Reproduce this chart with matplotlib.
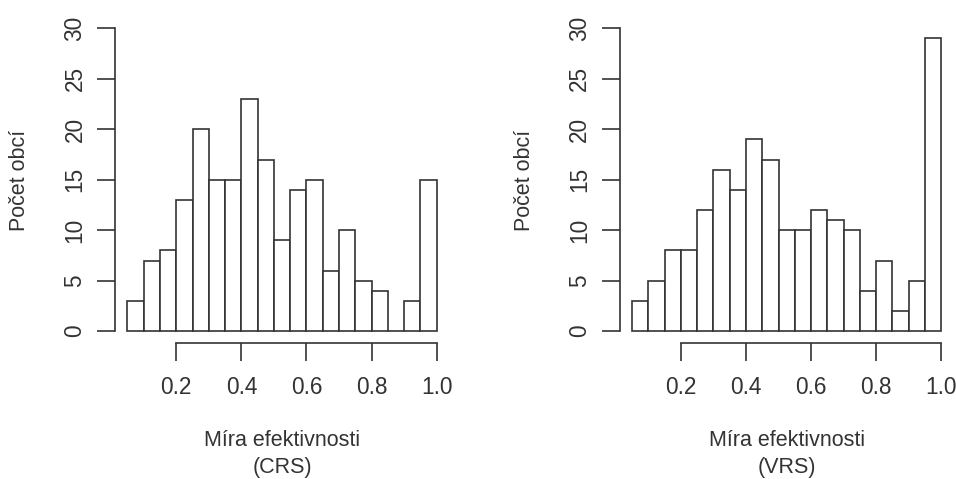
import matplotlib
matplotlib.use("Agg")
import matplotlib.pyplot as plt
import numpy as np

plt.rcParams['font.family'] = ['Liberation Sans', 'DejaVu Sans']

bin_edges = [0.05, 0.10, 0.15, 0.20, 0.25, 0.30, 0.35, 0.40, 0.45, 0.50,
             0.55, 0.60, 0.65, 0.70, 0.75, 0.80, 0.85, 0.90, 0.95, 1.00]
crs_counts = [3, 7, 8, 13, 20, 15, 15, 23, 17, 9, 14, 15, 6, 10, 5, 4, 0, 3, 15]
vrs_counts = [3, 5, 8, 8, 12, 16, 14, 19, 17, 10, 10, 12, 11, 10, 4, 7, 2, 5, 29]
x_ticks = [0.2, 0.4, 0.6, 0.8, 1.0]
x_tick_labels = ["0.2", "0.4", "0.6", "0.8", "1.0"]
y_ticks = [0, 5, 10, 15, 20, 25, 30]
y_label = "Počet obcí"
x_label = "Míra efektivnosti"
x_sublabels = ["(CRS)", "(VRS)"]

W, H = 956, 479
fig = plt.figure(figsize=(W / 100, H / 100), dpi=100)
ink = "#333333"
fs = 15.5
tfs = 16.3

panels = [(crs_counts, x_sublabels[0], 115, 449.1),
          (vrs_counts, x_sublabels[1], 619.7, 953.7)]
ylab_x = [20, 524.7]

for i, (counts, sub, left_px, right_px) in enumerate(panels):
    top_px, bot_px = 16.2, 343.3
    ax = fig.add_axes([left_px / W, 1 - bot_px / H,
                       (right_px - left_px) / W, (bot_px - top_px) / H])
    edges = np.array(bin_edges)
    ax.bar(edges[:-1], counts, width=np.diff(edges), align='edge',
           facecolor='white', edgecolor=ink, linewidth=1.2)
    ax.set_xlim(0.012, 1.038)
    ax.set_ylim(-1.2, 31.2)
    for s in ['top', 'right']:
        ax.spines[s].set_visible(False)
    ax.spines['left'].set_bounds(0, 30)
    ax.spines['bottom'].set_bounds(0.2, 1.0)
    for s in ['left', 'bottom']:
        ax.spines[s].set_color(ink)
        ax.spines[s].set_linewidth(1.2)
    ax.set_xticks(x_ticks)
    ax.set_xticklabels(x_tick_labels)
    ax.set_yticks(y_ticks)
    ax.set_yticklabels([str(v) for v in y_ticks], rotation=90, va='center')
    ax.tick_params(axis='both', colors=ink, labelcolor=ink, labelsize=tfs,
                   length=13, width=1.2)
    ax.tick_params(axis='x', pad=10.5)
    ax.tick_params(axis='y', pad=7.5)
    cx = (left_px + right_px) / 2
    fig.text(cx / W, 1 - 441 / H, x_label, ha='center', va='center',
             fontsize=fs, color=ink)
    fig.text(cx / W, 1 - 468 / H, sub, ha='center', va='center',
             fontsize=fs, color=ink)
    fig.text(ylab_x[i] / W, 1 - 180 / H, y_label, ha='center', va='center',
             rotation=90, fontsize=fs, color=ink)

fig.savefig("out.png", dpi=100)
